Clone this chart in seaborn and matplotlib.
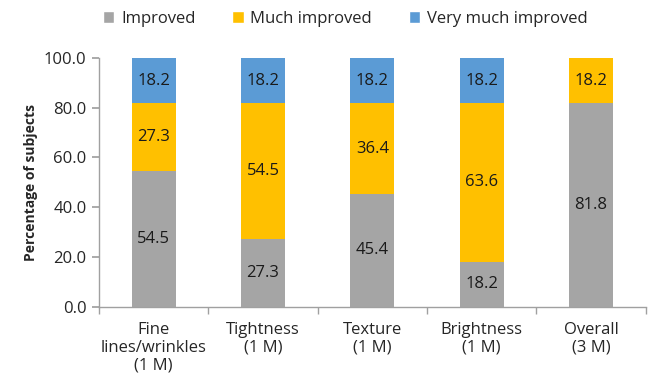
import matplotlib
matplotlib.use("Agg")
import matplotlib.pyplot as plt
import seaborn as sns
import pandas as pd
import numpy as np
from matplotlib.patches import Patch

categories = ["Fine\nlines/wrinkles\n(1 M)", "Tightness\n(1 M)", "Texture\n(1 M)", "Brightness\n(1 M)", "Overall\n(3 M)"]
series_names = ["Improved", "Much improved", "Very much improved"]
improved = [54.5, 27.3, 45.4, 18.2, 81.8]
much_improved = [27.3, 54.5, 36.4, 63.6, 18.2]
very_much_improved = [18.2, 18.2, 18.2, 18.2, 0.0]
y_ticks = [0, 20, 40, 60, 80, 100]

colors = ["#A5A5A5", "#FFC000", "#5B9BD5"]

sns.set_theme(style="white")
plt.rcParams["font.family"] = ["Open Sans", "DejaVu Sans"]

fig = plt.figure(figsize=(6.51, 3.86), dpi=100)
ax = fig.add_axes([0.152, 0.205, 0.84, 0.645])

values = [improved, much_improved, very_much_improved]
bottom = np.zeros(len(categories))
for name, vals, col in zip(series_names, values, colors):
    df = pd.DataFrame({"cat": categories, "val": vals})
    sns.barplot(data=df, x="cat", y="val", color=col, ax=ax, width=0.4,
                bottom=bottom.copy(), saturation=1, errorbar=None, linewidth=0)
    cont = ax.containers[-1]
    labels = [f"{v:.1f}" if v > 0 else "" for v in vals]
    ax.bar_label(cont, labels=labels, label_type="center", fontsize=12, color="#1a1a1a")
    bottom = bottom + np.array(vals)

ax.set_ylim(0, 100)
ax.set_xlim(-0.5, len(categories) - 0.5)
ax.set_yticks(y_ticks)
ax.set_yticklabels([f"{t:.1f}" for t in y_ticks], fontsize=12)
ax.set_ylabel("Percentage of subjects", fontsize=10, fontweight="bold")
ax.set_xlabel("")
ax.set_xticks(range(len(categories)))
ax.set_xticklabels(categories, fontsize=12, linespacing=1.15)
ax.tick_params(axis="x", length=0, pad=11)
ax.set_xticks(np.arange(-0.5, len(categories), 1.0), minor=True)
ax.tick_params(axis="x", which="minor", length=5, color="#A0A0A0", direction="out", bottom=True)
ax.tick_params(axis="y", length=5, color="#A0A0A0", direction="out", left=True, pad=4)
for s in ["top", "right"]:
    ax.spines[s].set_visible(False)
for s in ["left", "bottom"]:
    ax.spines[s].set_color("#A0A0A0")
    ax.spines[s].set_linewidth(1)

handles = [Patch(facecolor=c, label=n) for n, c in zip(series_names, colors)]
fig.legend(handles=handles, loc="upper center", bbox_to_anchor=(0.53, 1.01), ncol=3,
           frameon=False, fontsize=12, handlelength=0.7, handleheight=0.7,
           handletextpad=0.4, columnspacing=2.2)

fig.savefig("out.png", dpi=100)
